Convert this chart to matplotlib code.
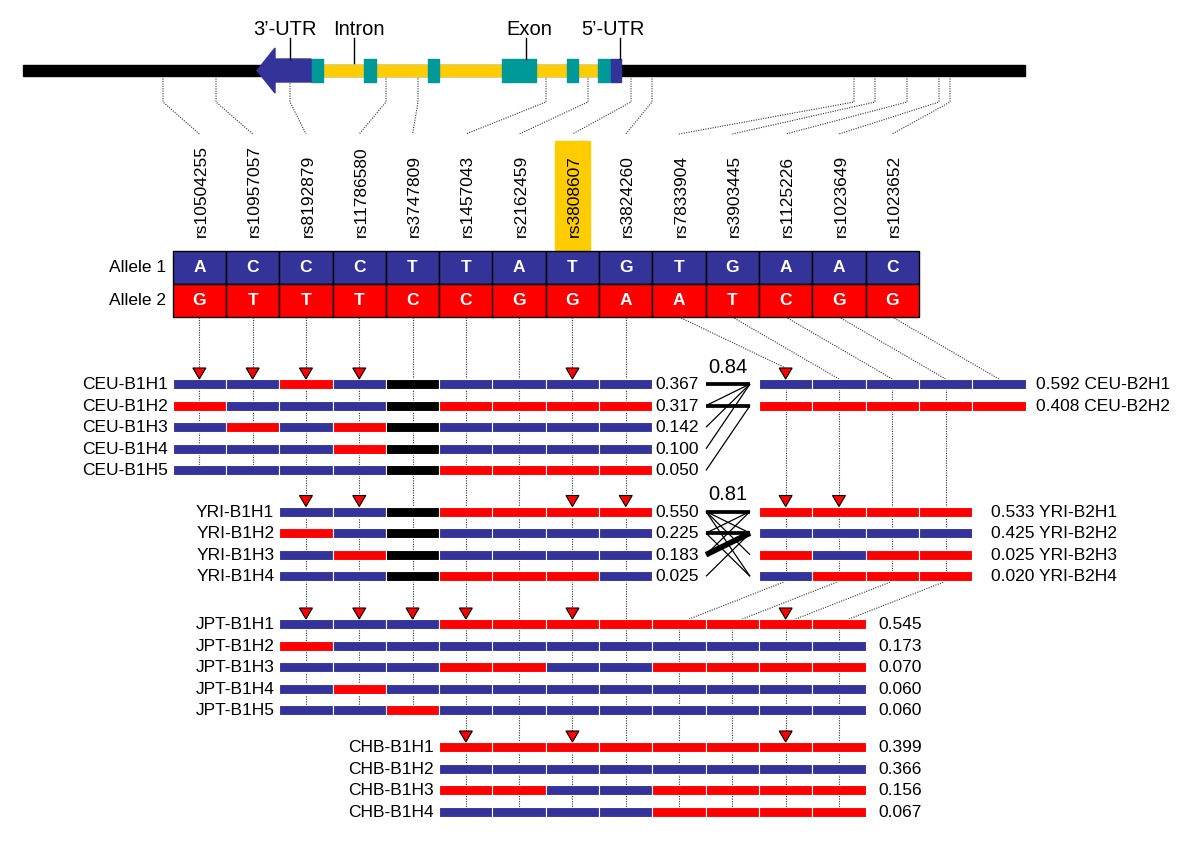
import matplotlib
matplotlib.use('Agg')
import matplotlib.pyplot as plt
from matplotlib.patches import Rectangle, Polygon

plt.rcParams['font.family'] = ['Liberation Sans', 'DejaVu Sans']

# ---- data ----
snp_ids = ['rs10504255', 'rs10957057', 'rs8192879', 'rs11786580', 'rs3747809',
           'rs1457043', 'rs2162459', 'rs3808607', 'rs3824260', 'rs7833904',
           'rs3903445', 'rs1125226', 'rs1023649', 'rs1023652']
allele1 = ['A', 'C', 'C', 'C', 'T', 'T', 'A', 'T', 'G', 'T', 'G', 'A', 'A', 'C']
allele2 = ['G', 'T', 'T', 'T', 'C', 'C', 'G', 'G', 'A', 'A', 'T', 'C', 'G', 'G']
snp_gene_pos = [163, 216, 290, 386, 418, 546, 588, 631, 652, 854, 875, 907, 939, 950]
highlight_snp = 7

# gene model (position along the drawn locus)
locus = (23, 1025)
intron_span = (323, 598)
exons = [(311, 323), (364, 376), (428, 439), (502, 536), (567, 578), (598, 611)]
utr5 = (611, 621)
utr3 = (257, 311)
gene_labels = ['3\u2019-UTR', 'Intron', 'Exon', '5\u2019-UTR']
gene_label_x = [285, 359, 529, 613]
gene_label_tick = [290, 354, 526, 620]

# haplotype blocks: 1 = allele 1, 2 = allele 2, 0 = not typed
ceu_b1_names = ['CEU-B1H1', 'CEU-B1H2', 'CEU-B1H3', 'CEU-B1H4', 'CEU-B1H5']
ceu_b1_haps = ['112101111', '211102222', '121201111', '111201111', '111102222']
ceu_b1_freq = ['0.367', '0.317', '0.142', '0.100', '0.050']
ceu_b1_tags = [0, 1, 2, 3, 7]

yri_b1_names = ['YRI-B1H1', 'YRI-B1H2', 'YRI-B1H3', 'YRI-B1H4']
yri_b1_haps = ['1102222', '2101111', '1201111', '1102221']
yri_b1_freq = ['0.550', '0.225', '0.183', '0.025']
yri_b1_tags = [2, 3, 7, 8]

jpt_b1_names = ['JPT-B1H1', 'JPT-B1H2', 'JPT-B1H3', 'JPT-B1H4', 'JPT-B1H5']
jpt_b1_haps = ['11122222222', '21111111111', '11122112222', '12111111111', '11211111111']
jpt_b1_freq = ['0.545', '0.173', '0.070', '0.060', '0.060']
jpt_b1_tags = [2, 3, 4, 5, 7, 11]

chb_b1_names = ['CHB-B1H1', 'CHB-B1H2', 'CHB-B1H3', 'CHB-B1H4']
chb_b1_haps = ['22222222', '11111111', '22112222', '11112222']
chb_b1_freq = ['0.399', '0.366', '0.156', '0.067']
chb_b1_tags = [5, 7, 11]

ceu_b2_names = ['CEU-B2H1', 'CEU-B2H2']
ceu_b2_haps = ['11111', '22222']
ceu_b2_freq = ['0.592', '0.408']
ceu_b2_tags = [9]

yri_b2_names = ['YRI-B2H1', 'YRI-B2H2', 'YRI-B2H3', 'YRI-B2H4']
yri_b2_haps = ['2222', '1111', '2122', '1222']
yri_b2_freq = ['0.533', '0.425', '0.025', '0.020']
yri_b2_tags = [9, 10]

# block-to-block haplotype links (B1 index, B2 index, strength)
ceu_ld = '0.84'
ceu_links = [(0, 0, 3), (1, 1, 3), (1, 0, 1), (2, 0, 1), (3, 0, 1), (4, 1, 1)]
yri_ld = '0.81'
yri_links = [(0, 0, 3), (1, 1, 3), (2, 1, 4.5), (0, 1, 1), (0, 2, 1), (0, 3, 1),
             (1, 0, 1), (2, 0, 1), (3, 1, 1), (1, 3, 1)]

# ---- layout ----
NAVY, RED, TEAL, GOLD = '#333399', '#ff0000', '#009999', '#ffcc00'
hap_color = {'1': NAVY, '2': RED, '0': 'black'}
X0, CW = 172.7, 53.3          # left edge and width of one SNP column
ROW, BH = 21.6, 10            # row spacing and bar height
TABLE_TOP, TABLE_MID, TABLE_BOT = 251, 283.5, 317
B2_SHIFT = 2                  # block 2 is drawn two columns to the right
FS = 12.5
dot = dict(color='#333333', lw=0.8, ls=(0, (1, 1.2)), zorder=1)


def cx(c):
    return X0 + (c + 0.5) * CW


fig = plt.figure(figsize=(12, 8.63), dpi=100)
ax = fig.add_axes([0, 0, 1, 1])
ax.set_xlim(0, 1200)
ax.set_ylim(863, 0)
ax.axis('off')

# gene model
ax.add_patch(Rectangle((locus[0], 65), locus[1] - locus[0], 11, color='black', zorder=2))
ax.add_patch(Rectangle((intron_span[0], 65), intron_span[1] - intron_span[0], 11, color=GOLD, zorder=3))
for a, b in exons:
    ax.add_patch(Rectangle((a, 59), b - a, 23, color=TEAL, zorder=4))
ax.add_patch(Rectangle((utr5[0], 59), utr5[1] - utr5[0], 23, color=NAVY, zorder=4))
head = utr3[0] + 18
ax.add_patch(Polygon([(utr3[0], 70.5), (head, 48), (head, 59), (utr3[1], 59),
                      (utr3[1], 82), (head, 82), (head, 93)], closed=True, color=NAVY, zorder=4))
for lab, lx, tx in zip(gene_labels, gene_label_x, gene_label_tick):
    ax.text(lx, 35, lab, fontsize=14.5, ha='center', va='baseline')
    ax.plot([tx, tx], [38, 63 if lab == 'Intron' else 59], color='black', lw=1, zorder=5)

# connectors from locus to SNP labels
for i, g in enumerate(snp_gene_pos):
    ax.plot([g, g, cx(i)], [76, 102, 134], **dot)

# SNP labels and allele table
hx = cx(highlight_snp)
ax.add_patch(Rectangle((hx - 17.5, 141), 35, TABLE_TOP - 141, color=GOLD, zorder=1))
for i, s in enumerate(snp_ids):
    ax.text(cx(i) + 2, 237, s, rotation=90, fontsize=FS, ha='center', va='bottom', zorder=3)
    for y0, y1, col, al in [(TABLE_TOP, TABLE_MID, NAVY, allele1[i]),
                            (TABLE_MID, TABLE_BOT, RED, allele2[i])]:
        ax.add_patch(Rectangle((X0 + i * CW, y0), CW, y1 - y0, facecolor=col,
                               edgecolor='black', lw=1, zorder=3))
        ax.text(cx(i), (y0 + y1) / 2 + 0.5, al, color='white', fontsize=12.5, fontweight='bold',
                ha='center', va='center', zorder=4)
ax.text(166, (TABLE_TOP + TABLE_MID) / 2, 'Allele 1', fontsize=FS, ha='right', va='center')
ax.text(166, (TABLE_MID + TABLE_BOT) / 2, 'Allele 2', fontsize=FS, ha='right', va='center')


def draw_bars(haps, first_col, y0, tag_cols):
    for r, hap in enumerate(haps):
        y = y0 + r * ROW
        for k, a in enumerate(hap):
            ax.add_patch(Rectangle((X0 + (first_col + k) * CW, y - BH / 2), CW, BH,
                                   facecolor=hap_color[a], edgecolor='white', lw=0.8, zorder=3))
    top = y0 - BH / 2
    for c in tag_cols:
        x = cx(c)
        ax.add_patch(Polygon([(x - 6.5, top - 11), (x + 6.5, top - 11), (x, top)],
                             closed=True, facecolor=RED, edgecolor='black', lw=0.8, zorder=4))


last_y = {i: TABLE_BOT for i in range(9)}


def draw_b1(names, haps, freqs, first_col, y0, tags, fgap):
    n = len(haps[0])
    y_last = y0 + (len(haps) - 1) * ROW
    for c in range(first_col, first_col + n):
        ax.plot([cx(c), cx(c)], [last_y.get(c, y0), y_last], **dot)
        last_y[c] = y_last
    draw_bars(haps, first_col, y0, tags)
    x_end = X0 + (first_col + n) * CW
    for r, (nm, fr) in enumerate(zip(names, freqs)):
        y = y0 + r * ROW + 0.5
        ax.text(X0 + first_col * CW - 5, y, nm, fontsize=FS, ha='right', va='center')
        ax.text(x_end + fgap, y, fr, fontsize=FS, ha='left', va='center')


def draw_b2(names, haps, freqs, y0, tags, fgap):
    n = len(haps[0])
    draw_bars(haps, 9 + B2_SHIFT, y0, [t + B2_SHIFT for t in tags])
    x_end = X0 + (9 + B2_SHIFT + n) * CW
    for r, (nm, fr) in enumerate(zip(names, freqs)):
        ax.text(x_end + fgap, y0 + r * ROW + 0.5, fr + ' ' + nm, fontsize=FS,
                ha='left', va='center')


def draw_links(links, y0, ld):
    xl, xr = 706, 750
    for i, j, w in links:
        ax.plot([xl, xr], [y0 + i * ROW, y0 + j * ROW], color='black', lw=w * 0.9,
                solid_capstyle='butt', zorder=2)
    ax.text(728, y0 - 17, ld, fontsize=14.5, ha='center', va='center')


ceu_y, yri_y, jpt_y, chb_y = 384, 511.5, 624, 747

# CEU
draw_b1(ceu_b1_names, ceu_b1_haps, ceu_b1_freq, 0, ceu_y, ceu_b1_tags, 3)
for k in range(len(ceu_b2_haps[0])):
    s = 9 + k
    top = ceu_y - BH / 2 - (11 if s in ceu_b2_tags else 0)
    ax.plot([cx(s), cx(s + B2_SHIFT)], [TABLE_BOT, top], **dot)
draw_b2(ceu_b2_names, ceu_b2_haps, ceu_b2_freq, ceu_y, ceu_b2_tags, 11)
draw_links(ceu_links, ceu_y, ceu_ld)

# YRI
draw_b1(yri_b1_names, yri_b1_haps, yri_b1_freq, 2, yri_y, yri_b1_tags, 3)
n2 = len(yri_b2_haps[0])
for k in range(n2):
    c = 9 + k + B2_SHIFT
    ax.plot([cx(c), cx(c)], [ceu_y, yri_y + (len(yri_b2_haps) - 1) * ROW], **dot)
draw_b2(yri_b2_names, yri_b2_haps, yri_b2_freq, yri_y, yri_b2_tags, 19)
draw_links(yri_links, yri_y, yri_ld)

# YRI block 2 feeds JPT columns diagonally
yb = yri_y + (len(yri_b2_haps) - 1) * ROW + BH / 2
for k in range(n2):
    ax.plot([cx(9 + k + B2_SHIFT), cx(9 + k) + 10], [yb, jpt_y - BH / 2], **dot)

# JPT, CHB
draw_b1(jpt_b1_names, jpt_b1_haps, jpt_b1_freq, 2, jpt_y, jpt_b1_tags, 13)
draw_b1(chb_b1_names, chb_b1_haps, chb_b1_freq, 5, chb_y, chb_b1_tags, 13)

fig.savefig('out.png', dpi=100)
